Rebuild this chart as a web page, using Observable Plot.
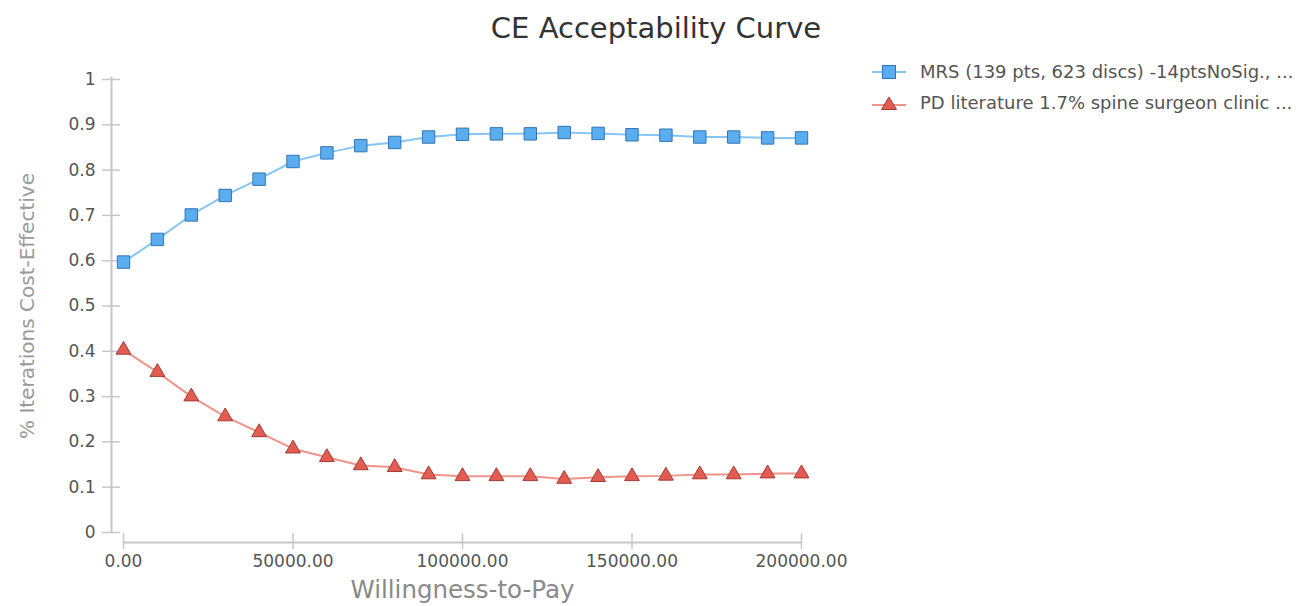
<!DOCTYPE html>
<html><head><meta charset="utf-8">
<script src="https://cdn.jsdelivr.net/npm/d3@7"></script>
<script src="https://cdn.jsdelivr.net/npm/@observablehq/plot@0.6"></script>
<style>
body{margin:0;background:#fff;font-family:"DejaVu Sans",sans-serif;}
#wrap{position:relative;width:1304px;height:606px;overflow:hidden;}
#title{position:absolute;left:656px;top:9px;transform:translateX(-50%);font-size:29px;color:#333;white-space:nowrap;line-height:38px;}
#legend{position:absolute;left:872px;top:56px;font-size:18px;color:#555;}
.row{display:flex;align-items:center;height:31px;white-space:nowrap;}
.row svg{margin-right:14px;}
</style></head>
<body><div id="wrap"><div id="title"></div><div id="legend"></div></div>
<script>
const title = "CE Acceptability Curve";
const xLabel = "Willingness-to-Pay";
const yLabel = "% Iterations Cost-Effective";
const seriesNames = ["MRS (139 pts, 623 discs) -14ptsNoSig., ...", "PD literature 1.7% spine surgeon clinic ..."];
const wtp = [0,10000,20000,30000,40000,50000,60000,70000,80000,90000,100000,110000,120000,130000,140000,150000,160000,170000,180000,190000,200000];
const mrs = [0.597,0.647,0.701,0.744,0.780,0.819,0.838,0.854,0.861,0.873,0.879,0.880,0.880,0.883,0.881,0.878,0.877,0.873,0.873,0.871,0.871];
const pd  = [0.403,0.354,0.300,0.256,0.221,0.185,0.166,0.148,0.144,0.128,0.124,0.124,0.124,0.118,0.122,0.124,0.125,0.128,0.128,0.130,0.130];
const xTicks = [0,50000,100000,150000,200000];
const yTicks = [0,0.1,0.2,0.3,0.4,0.5,0.6,0.7,0.8,0.9,1];

const blue = {line:"#86c6f4", fill:"#5aaef0", stroke:"#3373b5"};
const red = {line:"#f0948a", fill:"#e35c52", stroke:"#a43a33"};
const axisColor = "#c6c6cc";

const data = wtp.map((x,i)=>({x, mrs: mrs[i], pd: pd[i]}));

const chart = Plot.plot({
  width:1304, height:606,
  marginLeft:123, marginRight:503, marginTop:79, marginBottom:74,
  x:{domain:[0,200000]}, y:{domain:[0,1]},
  style:{fontFamily:"DejaVu Sans, sans-serif", fontSize:"17px", color:"#555", background:"transparent"},
  marks:[
    Plot.ruleX([0],{y1:0,y2:1.005,dx:-12,stroke:axisColor,strokeWidth:2}),
    Plot.axisY({ticks:yTicks, tickSize:18, tickPadding:7, dx:-3, tickFormat:d=>String(+d.toFixed(1)), stroke:axisColor, strokeWidth:1.5, fill:"#555", label:null}),
    Plot.ruleY([0],{x1:0,x2:200000,dy:10,stroke:axisColor,strokeWidth:2}),
    Plot.axisX({ticks:xTicks, tickSize:16, tickPadding:5, dy:1, tickFormat:d=>d.toFixed(2), stroke:axisColor, strokeWidth:1.5, fill:"#555", label:null}),
    Plot.text([yLabel],{frameAnchor:"left", textAnchor:"middle", lineAnchor:"middle", rotate:-90, dx:-96, fontSize:20, fill:"#9a9a9a"}),
    Plot.text([xLabel],{frameAnchor:"bottom", textAnchor:"middle", lineAnchor:"middle", dy:58, fontSize:24.5, fill:"#8a8a8a"}),
    Plot.line(data,{x:"x",y:"mrs",stroke:blue.line,strokeWidth:2}),
    Plot.line(data,{x:"x",y:"pd",stroke:red.line,strokeWidth:2}),
    Plot.dot(data,{x:"x",y:"mrs",symbol:"square",r:7,fill:blue.fill,stroke:blue.stroke,strokeWidth:1}),
    Plot.dot(data,{x:"x",y:"pd",symbol:"triangle",r:5.5,fill:red.fill,stroke:red.stroke,strokeWidth:1})
  ]
});
document.getElementById("wrap").prepend(chart);
chart.style.position="absolute"; chart.style.left="0"; chart.style.top="0";
document.getElementById("title").textContent = title;

const legend = document.getElementById("legend");
const syms = [
  `<line x1="0" y1="10" x2="34" y2="10" stroke="${blue.line}" stroke-width="2"/><rect x="10.5" y="3.5" width="13" height="13" fill="${blue.fill}" stroke="${blue.stroke}"/>`,
  `<line x1="0" y1="12" x2="34" y2="12" stroke="${red.line}" stroke-width="2"/><path d="M17,4 L24.5,16.5 L9.5,16.5 Z" fill="${red.fill}" stroke="${red.stroke}"/>`
];
seriesNames.forEach((name,i)=>{
  const row = document.createElement("div"); row.className="row";
  row.innerHTML = `<svg width="34" height="20">${syms[i]}</svg><span></span>`;
  row.querySelector("span").textContent = name;
  legend.appendChild(row);
});
</script></body></html>
